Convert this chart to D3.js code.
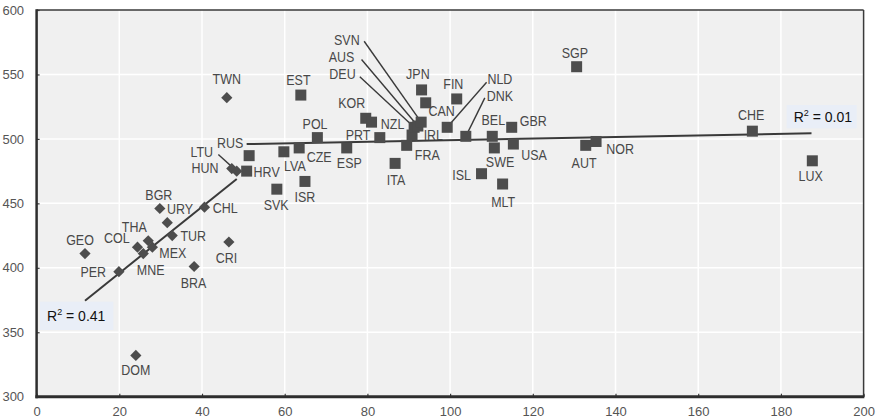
<!DOCTYPE html>
<html><head><meta charset="utf-8">
<script src="https://cdn.jsdelivr.net/npm/d3@7/dist/d3.min.js"></script>
<style>
html,body{margin:0;padding:0;background:#fff;}
svg{display:block;}
</style></head>
<body>
<svg id="chart" width="876" height="420"></svg>
<script>
// ---- Data ----
const xTicks = [0,20,40,60,80,100,120,140,160,180,200];
const yTicks = [300,350,400,450,500,550,600];

// countries below the threshold (diamonds)
const lowCodes  = ["TWN","GEO","PER","COL","THA","MNE","MEX","URY","BGR","TUR","CHL","CRI","BRA","DOM","HUN","LTU"];
const lowSpend  = [46.0,11.7,19.9,24.4,27.0,25.8,28.0,31.6,29.8,32.8,40.6,46.5,38.1,24.0,47.2,48.4];
const lowScore  = [532,411,397,416,421,411,416,435,446,425,447,420,401,332,477,475];

// countries above the threshold (squares)
const highCodes = ["HRV","RUS","SVK","LVA","CZE","EST","ISR","POL","ESP","KOR","NZL","PRT","ITA","FRA","IRL","DEU","AUS","SVN","JPN","CAN","NLD","FIN","DNK","ISL","BEL","SWE","MLT","GBR","USA","SGP","AUT","NOR","CHE","LUX"];
const highSpend = [50.8,51.4,58.1,59.8,63.5,63.9,64.9,67.9,75.0,79.6,81.0,83.0,86.7,89.5,90.8,91.3,92.2,93.0,93.1,94.1,99.3,101.6,103.8,107.6,110.2,110.7,112.7,114.9,115.3,130.6,132.8,135.3,173.1,187.6];
const highScore = [475,487,461,490,493,534,467,501,493,516,513,501,481,495,503,509,510,513,538,528,509,531,502,473,502,493,465,509,496,556,495,498,506,483];

// trend lines (endpoints)
const trendLow  = [[11.7,374.5],[48.4,468.9]];
const trendHigh = [[50.8,496.0],[187.4,504.3]];
const r2Labels  = ["0.41","0.01"];

// ---- Layout (label offsets in px: [dx, dy, leaderDx, leaderDy]) ----
const labelPos = {
  TWN:[0,-14],GEO:[-5,-9],PER:[-25.7,5],COL:[-20.6,-4],THA:[-14,-9],MNE:[7.4,21.7],MEX:[20.4,11],
  URY:[12.7,-8.4],BGR:[-1,-8.3],TUR:[21,5.7],CHL:[20.7,5.6],CRI:[-2.3,21],BRA:[-0.7,21],DOM:[0,19.7],
  HUN:[-26.7,4.3],LTU:[-35,-14,-18.4,-16.7],
  HRV:[20,5.7],RUS:[-19,-7.3],SVK:[-0.7,21],LVA:[11,19],CZE:[20,14],EST:[-2.4,-10],ISR:[0,20.6],
  POL:[-2.3,-9],ESP:[2.6,20],KOR:[-14,-10],NZL:[21,7.3],PRT:[-21.7,2.3],ITA:[1,21.7],FRA:[20.6,15],
  IRL:[21.3,5],DEU:[-71.6,-47.8,-54.3,-50.5],AUS:[-76.3,-64.5,-56.3,-66.5],SVN:[-74.3,-77.6,-57,-80.9],
  JPN:[-3.7,-11],CAN:[16,13.4],NLD:[52.7,-43.3,39.4,-45],FIN:[-3.4,-10.3],DNK:[34,-35.7,19,-38.4],
  ISL:[-20,6.7],BEL:[1,-11],SWE:[5.7,19.4],MLT:[0.6,22.7],GBR:[21.6,-1.6],USA:[20.7,16],
  SGP:[-1.7,-9],AUT:[-1.7,22.7],NOR:[24,12.6],CHE:[-1.3,-11.3],LUX:[-1.6,20]
};

const svg = d3.select("#chart");
const L = 36.6, R = 863.6, T = 10, B = 396.7;
const x = d3.scaleLinear().domain([0,200]).range([L,R]);
const y = d3.scaleLinear().domain([300,600]).range([B,T]);

const dark = "#3a3a3a";
const markColor = "#4d4d4d";
const labelColor = "#484848";

// background
svg.append("rect").attr("x",L).attr("y",T).attr("width",R-L).attr("height",B-T).attr("fill","#f0f0f0");

// grid
svg.append("g").selectAll("line").data(xTicks.slice(1,-1)).join("line")
  .attr("x1",d=>x(d)).attr("x2",d=>x(d)).attr("y1",T).attr("y2",B)
  .attr("stroke","#fff").attr("stroke-width",1.5);
svg.append("g").selectAll("line").data(yTicks.slice(1,-1)).join("line")
  .attr("y1",d=>y(d)).attr("y2",d=>y(d)).attr("x1",L).attr("x2",R)
  .attr("stroke","#fff").attr("stroke-width",1.5);

// frame: top/right thin
svg.append("line").attr("x1",L).attr("x2",R).attr("y1",T).attr("y2",T).attr("stroke",dark).attr("stroke-width",1.5);
svg.append("line").attr("x1",R).attr("x2",R).attr("y1",T).attr("y2",B).attr("stroke",dark).attr("stroke-width",1.5);

// axes
const xAxis = d3.axisBottom(x).tickValues(xTicks).tickSize(-3).tickPadding(8).tickFormat(d3.format("d"));
const yAxis = d3.axisLeft(y).tickValues(yTicks).tickSize(-3).tickPadding(12.5).tickFormat(d3.format("d"));
const gx = svg.append("g").attr("transform",`translate(0,${B})`).call(xAxis);
const gy = svg.append("g").attr("transform",`translate(${L},0)`).call(yAxis);
[gx,gy].forEach(g=>{
  g.select(".domain").remove();
  g.selectAll(".tick line").attr("stroke",dark).attr("stroke-width",1.2);
  g.selectAll(".tick text").attr("fill","#555").attr("font-family","Liberation Sans, Arial, sans-serif").attr("font-size",13);
});
gx.selectAll(".tick text").attr("dy","0.9em");
svg.append("line").attr("x1",L).attr("x2",L).attr("y1",T-0.75).attr("y2",B+1.5).attr("stroke","#2e2e2e").attr("stroke-width",2.5);
svg.append("line").attr("x1",L-1.2).attr("x2",R+0.75).attr("y1",B).attr("y2",B).attr("stroke","#2e2e2e").attr("stroke-width",3);

// build point rows
const lowPts = lowCodes.map((c,i)=>({code:c,x:lowSpend[i],y:lowScore[i]}));
const highPts = highCodes.map((c,i)=>({code:c,x:highSpend[i],y:highScore[i]}));
const allPts = lowPts.concat(highPts);

// leader lines
svg.append("g").selectAll("line").data(allPts.filter(d=>labelPos[d.code].length>2)).join("line")
  .attr("x1",d=>x(d.x)+labelPos[d.code][2]).attr("y1",d=>y(d.y)+labelPos[d.code][3])
  .attr("x2",d=>x(d.x)).attr("y2",d=>y(d.y))
  .attr("stroke",dark).attr("stroke-width",1.4);

// trend lines
const line = d3.line().x(d=>x(d[0])).y(d=>y(d[1]));
[trendLow,trendHigh].forEach(t=>{
  svg.append("path").attr("d",line(t)).attr("fill","none").attr("stroke",dark).attr("stroke-width",2);
});

// markers
const sq = 11;
svg.append("g").selectAll("rect").data(highPts).join("rect")
  .attr("x",d=>x(d.x)-sq/2).attr("y",d=>y(d.y)-sq/2).attr("width",sq).attr("height",sq)
  .attr("fill",markColor);
const dm = 5.6;
svg.append("g").selectAll("path").data(lowPts).join("path")
  .attr("d",d=>{const cx=x(d.x), cy=y(d.y); return `M${cx},${cy-dm}L${cx+dm},${cy}L${cx},${cy+dm}L${cx-dm},${cy}Z`;})
  .attr("fill",markColor);

// labels (condensed)
const lg = svg.append("g").selectAll("g").data(allPts).join("g")
  .attr("transform",d=>`translate(${x(d.x)+labelPos[d.code][0]},${y(d.y)+labelPos[d.code][1]}) scale(0.86,1)`);
lg.append("text").attr("text-anchor","middle")
  .attr("font-family","Liberation Sans, Arial, sans-serif").attr("font-size",14.5)
  .attr("fill",labelColor).text(d=>d.code);

// R² boxes
function r2Box(bx,by,bw,bh,val){
  svg.append("rect").attr("x",bx).attr("y",by).attr("width",bw).attr("height",bh).attr("fill","#e9eef7");
  const t = svg.append("text").attr("x",bx+7).attr("y",by+bh/2+5.5)
    .attr("font-family","Liberation Sans, Arial, sans-serif").attr("font-size",14).attr("fill","#111");
  t.append("tspan").text("R");
  t.append("tspan").attr("font-size",9).attr("dy",-6).text("2");
  t.append("tspan").attr("dy",6).text(" = "+val);
}
r2Box(40,301.7,73.3,28.3,r2Labels[0]);
r2Box(786.7,105,70,23.3,r2Labels[1]);
</script>
</body></html>
